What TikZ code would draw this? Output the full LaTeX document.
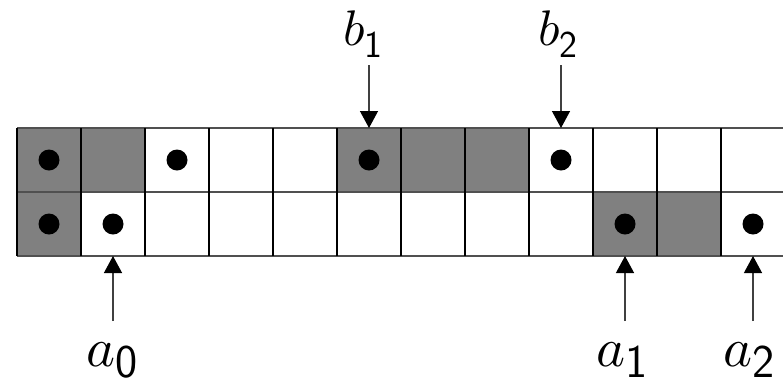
\documentclass[tikz,border=0pt]{standalone}
\usetikzlibrary{arrows.meta}
\definecolor{cellgray}{HTML}{808080}
\definecolor{hline}{HTML}{505050}
\definecolor{aline}{HTML}{404040}
\begin{document}
\begin{tikzpicture}[x=1pt,y=-1pt,
  cell/.style={rectangle,minimum size=64pt,inner sep=0pt,outer sep=0pt},
  dot/.style={fill=black},
  hgrid/.style={draw=hline,line width=1.5pt},
  vgrid/.style={draw=black,line width=1.5pt},
  ptr/.style={draw=aline,line width=1.3pt,-{Triangle[length=17pt,width=18pt,black]}},
  lab/.style={anchor=base west,inner sep=0pt}]
\useasboundingbox[fill=white] (0,0) rectangle (783,381);
% cells
\foreach \r/\y in {1/160,2/224}
  \foreach \c in {0,...,11}
    \node[cell] (c\r-\c) at ({49+64*\c},\y) {};
\foreach \n in {c1-0,c1-1,c1-5,c1-6,c1-7,c2-0,c2-9,c2-10}
  \fill[cellgray] (\n.north west) rectangle (\n.south east);
% grid lines
\foreach \y in {128,192,256}
  \draw[hgrid] (17,\y) -- (783,\y);
\foreach \c in {0,...,11}
  \draw[vgrid] ({17+64*\c},128) -- ({17+64*\c},256);
% dots
\foreach \n in {c1-0,c1-2,c1-5,c1-8,c2-0,c2-1,c2-9,c2-11}
  \fill[dot] (\n) circle (10.5);
% labels
\node[lab] (lb1) at (343,45) {\scalebox{5}{$b$}\raisebox{-12pt}{\fontsize{38}{38}\selectfont\sffamily 1}};
\node[lab] (lb2) at (538,45) {\scalebox{5}{$b$}\raisebox{-12pt}{\fontsize{38}{38}\selectfont\sffamily 2}};
\node[lab] (la0) at (86,366) {\scalebox{5.5}{$a$}\raisebox{-11pt}{\fontsize{47}{47}\selectfont\sffamily 0}};
\node[lab] (la1) at (596,366) {\scalebox{5.5}{$a$}\raisebox{-11pt}{\fontsize{47}{47}\selectfont\sffamily 1}};
\node[lab] (la2) at (723,366) {\scalebox{5.5}{$a$}\raisebox{-11pt}{\fontsize{47}{47}\selectfont\sffamily 2}};
% arrow tails
\coordinate (tb1) at (c1-5.north |- 0,65);
\coordinate (tb2) at (c1-8.north |- 0,65);
\coordinate (ta0) at (c2-1.south |- 0,321);
\coordinate (ta1) at (c2-9.south |- 0,321);
\coordinate (ta2) at (c2-11.south |- 0,321);
\draw[ptr] (tb1) -- (c1-5.north);
\draw[ptr] (tb2) -- (c1-8.north);
\draw[ptr] (ta0) -- (c2-1.south);
\draw[ptr] (ta1) -- (c2-9.south);
\draw[ptr] (ta2) -- (c2-11.south);
\end{tikzpicture}
\end{document}
